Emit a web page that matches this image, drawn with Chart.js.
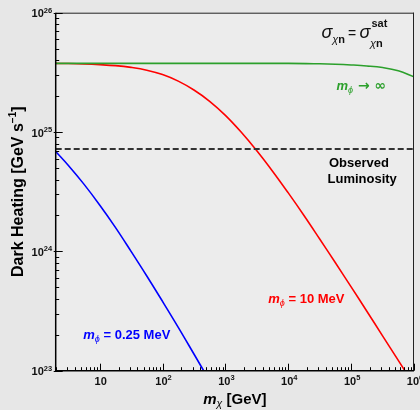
<!DOCTYPE html>
<html><head><meta charset="utf-8">
<script src="https://cdn.jsdelivr.net/npm/chart.js@4.4.1/dist/chart.umd.min.js"></script>
<style>html,body{margin:0;padding:0;background:#e7e7e7;}canvas{display:block;}</style>
</head><body>
<canvas id="c" width="420" height="410"></canvas>
<script>
// ---- data ----
const massGreen = [2, 100, 1e4, 31623, 56234, 1e5, 177828, 316228, 562341, 1e6];
const heatGreen = [3.76e25, 3.76e25, 3.76e25, 3.73e25, 3.70e25, 3.65e25, 3.58e25, 3.47e25, 3.26e25, 2.90e25];

const massRed = [2, 3.16, 5.62, 10, 17.8, 31.6, 56.2, 100, 178, 316, 562, 1000, 1778, 3162, 5623,
                 1e4, 17783, 31623, 56234, 1e5, 177828, 316228, 562341, 1e6];
const heatRed = [3.76e25, 3.75e25, 3.72e25, 3.67e25, 3.60e25, 3.48e25, 3.30e25, 3.03e25, 2.67e25, 2.25e25,
                 1.81e25, 1.38e25, 1.00e25, 6.97e24, 4.70e24, 3.09e24, 2.00e24, 1.27e24, 8.02e23, 5.04e23,
                 3.15e23, 1.96e23, 1.22e23, 7.59e22];

const massBlue = [2, 3.16, 5.62, 10, 17.8, 31.6, 56.2, 100, 178, 316, 562];
const heatBlue = [6.87e24, 5.27e24, 3.66e24, 2.45e24, 1.59e24, 1.00e24, 6.22e23, 3.81e23, 2.31e23, 1.38e23, 8.20e22];

const massObs = [2, 1e6];
const heatObs = [7.2e24, 7.2e24];

const xTickValues = [10, 100, 1e3, 1e4, 1e5, 1e6];
const xTickExps   = ['', '2', '3', '4', '5', '6'];
const yTickValues = [1e23, 1e24, 1e25, 1e26];
const yTickExps   = ['23', '24', '25', '26'];

const pts = (xs, ys) => xs.map((x, i) => ({x, y: ys[i]}));
const F = '"Liberation Sans", Arial, "DejaVu Sans", sans-serif';

function drawParts(ctx, parts, x, y, align) {
  let w = 0;
  parts.forEach(p => { ctx.font = p.font; p.w = ctx.measureText(p.t).width; w += p.w + (p.dx || 0); });
  let cx = align === 'right' ? x - w : align === 'center' ? x - w / 2 : x;
  parts.forEach(p => {
    cx += (p.dx || 0);
    ctx.font = p.font;
    if (p.color) ctx.fillStyle = p.color;
    ctx.fillText(p.t, cx, y + (p.dy || 0));
    cx += p.w;
  });
}

const decor = {
  id: 'decor',
  beforeDraw(chart) {
    const {ctx, chartArea: a} = chart;
    ctx.save();
    ctx.fillStyle = '#e7e7e7';
    ctx.fillRect(0, 0, chart.width, chart.height);
    ctx.fillStyle = '#ececec';
    ctx.fillRect(a.left, a.top, a.right - a.left, a.bottom - a.top);
    ctx.restore();
  },
  afterDraw(chart) {
    const {ctx, chartArea: a} = chart;
    const xs = chart.scales.x, ys = chart.scales.y;
    ctx.save();
    // frame
    ctx.strokeStyle = '#222'; ctx.lineWidth = 1;
    ctx.beginPath();
    ctx.moveTo(a.left, a.top + 0.5); ctx.lineTo(a.right, a.top + 0.5);
    ctx.moveTo(a.right - 0.5, a.top); ctx.lineTo(a.right - 0.5, a.bottom);
    ctx.stroke();
    ctx.strokeStyle = '#000'; ctx.lineWidth = 1.5;
    ctx.beginPath();
    ctx.moveTo(a.left, a.top); ctx.lineTo(a.left, a.bottom);
    ctx.lineTo(a.right, a.bottom);
    ctx.stroke();
    // ticks
    ctx.lineWidth = 1;
    ctx.strokeStyle = '#000';
    ctx.beginPath();
    for (let d = 0; d <= 6; d++) {
      for (let k = 1; k <= 9; k++) {
        const v = k * Math.pow(10, d);
        if (v < 2 || v > 1e6) continue;
        const px = Math.round(xs.getPixelForValue(v)) + 0.5;
        const len = k === 1 ? 7 : 3.5;
        ctx.moveTo(px, a.bottom); ctx.lineTo(px, a.bottom - len);
      }
    }
    for (let d = 23; d <= 26; d++) {
      for (let k = 1; k <= 9; k++) {
        const v = k * Math.pow(10, d);
        if (v > 1e26) continue;
        const py = Math.round(ys.getPixelForValue(v)) + 0.5;
        if (k === 1) { ctx.moveTo(a.left - 2, py); ctx.lineTo(a.left + 7, py); }
        else { ctx.moveTo(a.left, py); ctx.lineTo(a.left + 3.5, py); }
      }
    }
    ctx.stroke();
    // tick labels
    ctx.fillStyle = '#111';
    ctx.textBaseline = 'alphabetic';
    xTickValues.forEach((v, i) => {
      const px = xs.getPixelForValue(v);
      const parts = [{t: '10', font: 'bold 11px ' + F}];
      if (xTickExps[i]) parts.push({t: xTickExps[i], font: 'bold 7.5px ' + F, dy: -4.5});
      drawParts(ctx, parts, px + 1, a.bottom + 14, 'center');
    });
    yTickValues.forEach((v, i) => {
      const py = ys.getPixelForValue(v);
      drawParts(ctx, [{t: '10', font: 'bold 11px ' + F}, {t: yTickExps[i], font: 'bold 7.5px ' + F, dy: -4.5}], a.left - 3.5, py + 4.5, 'right');
    });
    // axis titles
    ctx.fillStyle = '#000';
    drawParts(ctx, [
      {t: 'm', font: 'italic bold 15px ' + F},
      {t: 'χ', font: 'italic 10.5px ' + F, dy: 3},
      {t: ' [GeV]', font: 'bold 15px ' + F}
    ], (a.left + a.right) / 2, 404, 'center');
    ctx.save();
    ctx.translate(22.5, (a.top + a.bottom) / 2);
    ctx.rotate(-Math.PI / 2);
    drawParts(ctx, [
      {t: 'Dark Heating [GeV s', font: 'bold 16px ' + F},
      {t: '−1', font: 'bold 10px ' + F, dy: -7},
      {t: ']', font: 'bold 16px ' + F}
    ], 0, 0, 'center');
    ctx.restore();
    // annotations
    ctx.fillStyle = '#111';
    drawParts(ctx, [
      {t: 'σ', font: 'italic 18px ' + F},
      {t: 'χ', font: 'italic 11px ' + F, dy: 4.5},
      {t: 'n', font: 'bold 11px ' + F, dy: 4.5},
    ], 321.5, 38.3, 'left');
    drawParts(ctx, [{t: '=', font: '14px ' + F}], 348, 37.8, 'left');
    drawParts(ctx, [{t: 'σ', font: 'italic 18px ' + F}], 359.5, 38.3, 'left');
    drawParts(ctx, [{t: 'sat', font: 'bold 11px ' + F}], 371.5, 26.8, 'left');
    drawParts(ctx, [
      {t: 'χ', font: 'italic 11px ' + F},
      {t: 'n', font: 'bold 11px ' + F}
    ], 370, 46.5, 'left');

    ctx.fillStyle = '#000';
    ctx.font = 'bold 13px ' + F;
    ctx.fillText('Observed', 329, 166.7);
    ctx.fillText('Luminosity', 327.5, 183);

    ctx.fillStyle = '#2ca02c';
    drawParts(ctx, [
      {t: 'm', font: 'italic bold 13px ' + F},
      {t: 'ϕ', font: 'italic 9px ' + F, dy: 3},
      {t: ' →', font: 'bold 14px "DejaVu Sans", ' + F},
      {t: ' ∞', font: 'bold 14px "DejaVu Sans", ' + F}
    ], 336.5, 89.5, 'left');

    ctx.fillStyle = '#ff0000';
    drawParts(ctx, [
      {t: 'm', font: 'italic bold 13px ' + F},
      {t: 'ϕ', font: 'italic 9px ' + F, dy: 3},
      {t: ' = 10 MeV', font: 'bold 13px ' + F}
    ], 268.3, 303, 'left');

    ctx.fillStyle = '#0000ff';
    drawParts(ctx, [
      {t: 'm', font: 'italic bold 13px ' + F},
      {t: 'ϕ', font: 'italic 9px ' + F, dy: 3},
      {t: ' = 0.25 MeV', font: 'bold 13px ' + F}
    ], 83.3, 339, 'left');
    ctx.restore();
  }
};

const line = (data, color, extra) => Object.assign({
  data, borderColor: color, borderWidth: 1.6, pointRadius: 0, fill: false, tension: 0.4
}, extra || {});

new Chart(document.getElementById('c'), {
  type: 'line',
  data: {
    datasets: [
      line(pts(massObs, heatObs), '#333333', {borderDash: [6, 3], borderWidth: 2, tension: 0}),
      line(pts(massGreen, heatGreen), '#2ca02c'),
      line(pts(massRed, heatRed), '#ff0000'),
      line(pts(massBlue, heatBlue), '#0000ff')
    ]
  },
  options: {
    responsive: false, animation: false, devicePixelRatio: 1,
    layout: {padding: {top: 12.7, right: 6, left: 0, bottom: 0}},
    plugins: {legend: {display: false}, tooltip: {enabled: false}},
    scales: {
      x: {type: 'logarithmic', min: 2, max: 1e6,
          ticks: {display: false}, grid: {display: false}, border: {display: false},
          afterFit: s => { s.height = 39.3; }},
      y: {type: 'logarithmic', min: 1e23, max: 1e26,
          ticks: {display: false}, grid: {display: false}, border: {display: false},
          afterFit: s => { s.width = 55.7; }}
    }
  },
  plugins: [decor]
});
</script>
</body></html>
